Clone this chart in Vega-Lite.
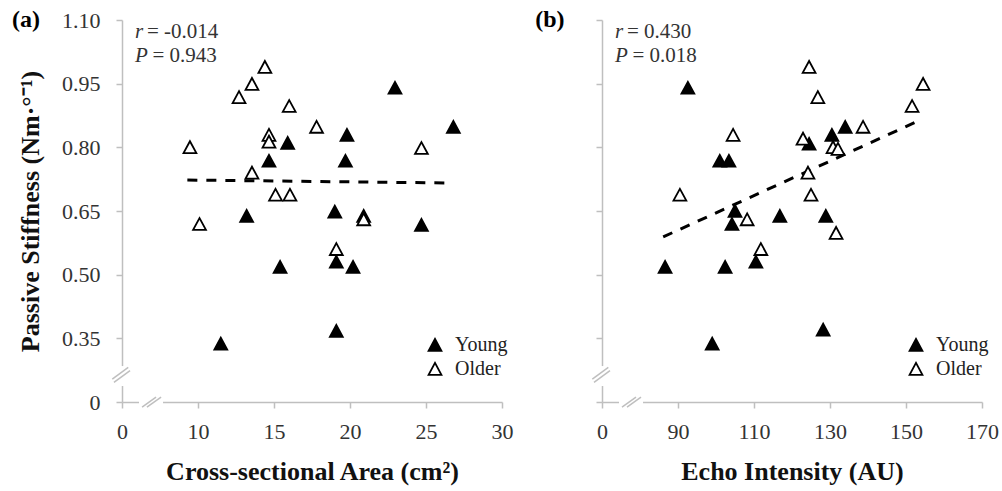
{
  "$schema": "https://vega.github.io/schema/vega-lite/v6.json",
  "background": "white",
  "padding": {"left": 11, "top": 8, "right": 5, "bottom": 5},
  "spacing": 22,
  "config": {
    "view": {"stroke": null},
    "font": "Liberation Serif",
    "axis": {
      "grid": false,
      "domainColor": "#bfbfbf",
      "domainWidth": 1.5,
      "tickColor": "#bfbfbf",
      "tickWidth": 1.5,
      "tickSize": 6,
      "labelFont": "Liberation Serif",
      "labelFontSize": 22,
      "labelColor": "#333333",
      "labelFlush": false,
      "labelOverlap": false,
      "titleFont": "Liberation Serif",
      "titleFontSize": 26,
      "titleFontWeight": "bold",
      "titleColor": "#111111"
    },
    "axisX": {"labelPadding": 13, "titlePadding": 16},
    "axisY": {"labelPadding": 16, "titlePadding": 18}
  },
  "resolve": {"scale": {"fill": "independent"}, "legend": {"fill": "independent"}},
  "datasets": {
    "a": [
      {"group": "Young", "csa": 22.96, "stiffness": 0.94},
      {"group": "Young", "csa": 26.8, "stiffness": 0.848},
      {"group": "Young", "csa": 15.9, "stiffness": 0.81},
      {"group": "Young", "csa": 19.8, "stiffness": 0.829},
      {"group": "Young", "csa": 14.67, "stiffness": 0.768},
      {"group": "Young", "csa": 19.7, "stiffness": 0.768},
      {"group": "Young", "csa": 13.2, "stiffness": 0.638},
      {"group": "Young", "csa": 19.0, "stiffness": 0.648},
      {"group": "Young", "csa": 20.9, "stiffness": 0.638},
      {"group": "Young", "csa": 24.7, "stiffness": 0.617},
      {"group": "Young", "csa": 19.1, "stiffness": 0.53},
      {"group": "Young", "csa": 15.4, "stiffness": 0.518},
      {"group": "Young", "csa": 20.2, "stiffness": 0.518},
      {"group": "Young", "csa": 19.1, "stiffness": 0.367},
      {"group": "Young", "csa": 11.5, "stiffness": 0.337},
      {"group": "Older", "csa": 9.47, "stiffness": 0.8},
      {"group": "Older", "csa": 10.1, "stiffness": 0.619},
      {"group": "Older", "csa": 12.7, "stiffness": 0.918},
      {"group": "Older", "csa": 13.55, "stiffness": 0.949},
      {"group": "Older", "csa": 14.4, "stiffness": 0.989},
      {"group": "Older", "csa": 16.0, "stiffness": 0.897},
      {"group": "Older", "csa": 17.8, "stiffness": 0.848},
      {"group": "Older", "csa": 14.67, "stiffness": 0.829},
      {"group": "Older", "csa": 14.67, "stiffness": 0.813},
      {"group": "Older", "csa": 24.7, "stiffness": 0.798},
      {"group": "Older", "csa": 13.55, "stiffness": 0.74},
      {"group": "Older", "csa": 15.1, "stiffness": 0.688},
      {"group": "Older", "csa": 16.05, "stiffness": 0.688},
      {"group": "Older", "csa": 20.9, "stiffness": 0.63},
      {"group": "Older", "csa": 19.1, "stiffness": 0.56}
    ],
    "b": [
      {"group": "Young", "echo": 92.6, "stiffness": 0.94},
      {"group": "Young", "echo": 101.0, "stiffness": 0.768},
      {"group": "Young", "echo": 103.4, "stiffness": 0.768},
      {"group": "Young", "echo": 105.0, "stiffness": 0.65},
      {"group": "Young", "echo": 104.2, "stiffness": 0.619},
      {"group": "Young", "echo": 134.0, "stiffness": 0.848},
      {"group": "Young", "echo": 130.5, "stiffness": 0.829},
      {"group": "Young", "echo": 124.5, "stiffness": 0.808},
      {"group": "Young", "echo": 116.8, "stiffness": 0.638},
      {"group": "Young", "echo": 128.9, "stiffness": 0.638},
      {"group": "Young", "echo": 110.5, "stiffness": 0.53},
      {"group": "Young", "echo": 128.2, "stiffness": 0.37},
      {"group": "Young", "echo": 86.6, "stiffness": 0.518},
      {"group": "Young", "echo": 102.4, "stiffness": 0.518},
      {"group": "Young", "echo": 99.0, "stiffness": 0.337},
      {"group": "Older", "echo": 104.5, "stiffness": 0.829},
      {"group": "Older", "echo": 90.5, "stiffness": 0.688},
      {"group": "Older", "echo": 124.5, "stiffness": 0.989},
      {"group": "Older", "echo": 126.8, "stiffness": 0.918},
      {"group": "Older", "echo": 154.5, "stiffness": 0.949},
      {"group": "Older", "echo": 151.6, "stiffness": 0.897},
      {"group": "Older", "echo": 138.7, "stiffness": 0.848},
      {"group": "Older", "echo": 122.9, "stiffness": 0.82},
      {"group": "Older", "echo": 130.8, "stiffness": 0.8},
      {"group": "Older", "echo": 132.1, "stiffness": 0.796},
      {"group": "Older", "echo": 124.2, "stiffness": 0.74},
      {"group": "Older", "echo": 125.0, "stiffness": 0.688},
      {"group": "Older", "echo": 108.2, "stiffness": 0.63},
      {"group": "Older", "echo": 131.6, "stiffness": 0.598},
      {"group": "Older", "echo": 111.8, "stiffness": 0.56}
    ],
    "lineA": [
      {"csa": 9.3, "stiffness": 0.723},
      {"csa": 26.6, "stiffness": 0.716}
    ],
    "lineB": [
      {"echo": 86.1, "stiffness": 0.589},
      {"echo": 153.7, "stiffness": 0.864}
    ],
    "one": [{}]
  },
  "hconcat": [
    {
      "width": 380,
      "height": 382,
      "layer": [
        {
          "data": {"name": "one"},
          "mark": {"type": "rule", "color": "white", "strokeWidth": 5},
          "encoding": {
            "x": {"datum": 5, "type": "quantitative", "scale": {"domain": [5, 30], "nice": false, "zero": false}},
            "y": {"datum": 0.2376, "type": "quantitative", "scale": {"domain": [0.2, 1.1], "nice": false, "zero": false}},
            "y2": {"datum": 0.2847}
          }
        },
        {
          "data": {"name": "one"},
          "mark": {"type": "rule", "color": "white", "strokeWidth": 5},
          "encoding": {
            "x": {"datum": 6.12, "type": "quantitative", "scale": {"domain": [5, 30], "nice": false, "zero": false}},
            "x2": {"datum": 7.7},
            "y": {"datum": 0.2, "type": "quantitative", "scale": {"domain": [0.2, 1.1], "nice": false, "zero": false}}
          }
        },
        {
          "data": {"name": "one"},
          "mark": {"type": "rule", "color": "#bfbfbf", "strokeWidth": 1.5},
          "encoding": {
            "x": {"datum": 4.36, "type": "quantitative", "scale": {"domain": [5, 30], "nice": false, "zero": false}},
            "x2": {"datum": 5.41},
            "y": {"datum": 0.2541, "type": "quantitative", "scale": {"domain": [0.2, 1.1], "nice": false, "zero": false}},
            "y2": {"datum": 0.2817}
          }
        },
        {
          "data": {"name": "one"},
          "mark": {"type": "rule", "color": "#bfbfbf", "strokeWidth": 1.5},
          "encoding": {
            "x": {"datum": 4.47, "type": "quantitative", "scale": {"domain": [5, 30], "nice": false, "zero": false}},
            "x2": {"datum": 5.53},
            "y": {"datum": 0.2464, "type": "quantitative", "scale": {"domain": [0.2, 1.1], "nice": false, "zero": false}},
            "y2": {"datum": 0.2737}
          }
        },
        {
          "data": {"name": "one"},
          "mark": {"type": "rule", "color": "#bfbfbf", "strokeWidth": 1.5},
          "encoding": {
            "x": {"datum": 6.32, "type": "quantitative", "scale": {"domain": [5, 30], "nice": false, "zero": false}},
            "x2": {"datum": 7.24},
            "y": {"datum": 0.188, "type": "quantitative", "scale": {"domain": [0.2, 1.1], "nice": false, "zero": false}},
            "y2": {"datum": 0.2117}
          }
        },
        {
          "data": {"name": "one"},
          "mark": {"type": "rule", "color": "#bfbfbf", "strokeWidth": 1.5},
          "encoding": {
            "x": {"datum": 6.64, "type": "quantitative", "scale": {"domain": [5, 30], "nice": false, "zero": false}},
            "x2": {"datum": 7.57},
            "y": {"datum": 0.188, "type": "quantitative", "scale": {"domain": [0.2, 1.1], "nice": false, "zero": false}},
            "y2": {"datum": 0.2117}
          }
        },
        {
          "data": {"name": "lineA"},
          "mark": {"type": "line", "color": "black", "strokeWidth": 3, "strokeDash": [10, 9]},
          "encoding": {
            "x": {"field": "csa", "type": "quantitative", "scale": {"domain": [5, 30], "nice": false, "zero": false}},
            "y": {"field": "stiffness", "type": "quantitative", "scale": {"domain": [0.2, 1.1], "nice": false, "zero": false}}
          }
        },
        {
          "data": {"name": "a"},
          "mark": {"type": "point", "shape": "M-1,0.9L1,0.9L0,-0.95Z", "size": 165, "filled": true, "stroke": "black", "strokeWidth": 1.8, "opacity": 1},
          "encoding": {
            "x": {
              "field": "csa", "type": "quantitative",
              "scale": {"domain": [5, 30], "nice": false, "zero": false},
              "axis": {"title": "Cross-sectional Area (cm²)", "values": [5, 10, 15, 20, 25, 30], "labelExpr": "datum.value == 5 ? '0' : datum.label"}
            },
            "y": {
              "field": "stiffness", "type": "quantitative",
              "scale": {"domain": [0.2, 1.1], "nice": false, "zero": false},
              "axis": {"title": "Passive Stiffness (Nm·°⁻¹)", "values": [0.2, 0.35, 0.5, 0.65, 0.8, 0.95, 1.1], "labelExpr": "datum.value < 0.25 ? '0' : format(datum.value, '.2f')"}
            },
            "fill": {
              "field": "group", "type": "nominal",
              "scale": {"domain": ["Young", "Older"], "range": ["black", "white"]},
              "legend": {
                "title": null, "orient": "none", "legendX": 303, "legendY": 315, "padding": 0,
                "labelFont": "Liberation Serif", "labelFontSize": 20, "labelColor": "#222222", "labelOffset": 10,
                "symbolType": "M-1,0.9L1,0.9L0,-0.95Z", "symbolSize": 165, "symbolStrokeColor": "black", "symbolStrokeWidth": 1.8,
                "rowPadding": 4
              }
            }
          }
        },
        {
          "data": {"name": "one"},
          "mark": {"type": "text", "text": "(a)", "font": "Liberation Serif", "fontSize": 24, "fontWeight": "bold", "align": "center", "baseline": "middle", "color": "black"},
          "encoding": {
            "x": {"datum": -1.32, "type": "quantitative", "scale": {"domain": [5, 30], "nice": false, "zero": false}},
            "y": {"datum": 1.1, "type": "quantitative", "scale": {"domain": [0.2, 1.1], "nice": false, "zero": false}}
          }
        },
        {
          "data": {"name": "one"},
          "mark": {"type": "text", "text": "r", "font": "Liberation Serif", "fontSize": 21, "fontStyle": "italic", "align": "left", "baseline": "middle", "color": "#333333"},
          "encoding": {
            "x": {"datum": 5.855, "type": "quantitative", "scale": {"domain": [5, 30], "nice": false, "zero": false}},
            "y": {"datum": 1.0717, "type": "quantitative", "scale": {"domain": [0.2, 1.1], "nice": false, "zero": false}}
          }
        },
        {
          "data": {"name": "one"},
          "mark": {"type": "text", "text": "= -0.014", "font": "Liberation Serif", "fontSize": 21, "align": "left", "baseline": "middle", "dx": 12, "color": "#333333"},
          "encoding": {
            "x": {"datum": 5.855, "type": "quantitative", "scale": {"domain": [5, 30], "nice": false, "zero": false}},
            "y": {"datum": 1.0717, "type": "quantitative", "scale": {"domain": [0.2, 1.1], "nice": false, "zero": false}}
          }
        },
        {
          "data": {"name": "one"},
          "mark": {"type": "text", "text": "P", "font": "Liberation Serif", "fontSize": 21, "fontStyle": "italic", "align": "left", "baseline": "middle", "color": "#333333"},
          "encoding": {
            "x": {"datum": 5.855, "type": "quantitative", "scale": {"domain": [5, 30], "nice": false, "zero": false}},
            "y": {"datum": 1.015, "type": "quantitative", "scale": {"domain": [0.2, 1.1], "nice": false, "zero": false}}
          }
        },
        {
          "data": {"name": "one"},
          "mark": {"type": "text", "text": "= 0.943", "font": "Liberation Serif", "fontSize": 21, "align": "left", "baseline": "middle", "dx": 17.5, "color": "#333333"},
          "encoding": {
            "x": {"datum": 5.855, "type": "quantitative", "scale": {"domain": [5, 30], "nice": false, "zero": false}},
            "y": {"datum": 1.015, "type": "quantitative", "scale": {"domain": [0.2, 1.1], "nice": false, "zero": false}}
          }
        }
      ]
    },
    {
      "width": 380,
      "height": 382,
      "layer": [
        {
          "data": {"name": "one"},
          "mark": {"type": "rule", "color": "white", "strokeWidth": 5},
          "encoding": {
            "x": {"datum": 70, "type": "quantitative", "scale": {"domain": [70, 170], "nice": false, "zero": false}},
            "y": {"datum": 0.2376, "type": "quantitative", "scale": {"domain": [0.2, 1.1], "nice": false, "zero": false}},
            "y2": {"datum": 0.2847}
          }
        },
        {
          "data": {"name": "one"},
          "mark": {"type": "rule", "color": "white", "strokeWidth": 5},
          "encoding": {
            "x": {"datum": 74.47, "type": "quantitative", "scale": {"domain": [70, 170], "nice": false, "zero": false}},
            "x2": {"datum": 80.8},
            "y": {"datum": 0.2, "type": "quantitative", "scale": {"domain": [0.2, 1.1], "nice": false, "zero": false}}
          }
        },
        {
          "data": {"name": "one"},
          "mark": {"type": "rule", "color": "#bfbfbf", "strokeWidth": 1.5},
          "encoding": {
            "x": {"datum": 67.45, "type": "quantitative", "scale": {"domain": [70, 170], "nice": false, "zero": false}},
            "x2": {"datum": 71.66},
            "y": {"datum": 0.2541, "type": "quantitative", "scale": {"domain": [0.2, 1.1], "nice": false, "zero": false}},
            "y2": {"datum": 0.2817}
          }
        },
        {
          "data": {"name": "one"},
          "mark": {"type": "rule", "color": "#bfbfbf", "strokeWidth": 1.5},
          "encoding": {
            "x": {"datum": 67.9, "type": "quantitative", "scale": {"domain": [70, 170], "nice": false, "zero": false}},
            "x2": {"datum": 72.1},
            "y": {"datum": 0.2464, "type": "quantitative", "scale": {"domain": [0.2, 1.1], "nice": false, "zero": false}},
            "y2": {"datum": 0.2737}
          }
        },
        {
          "data": {"name": "one"},
          "mark": {"type": "rule", "color": "#bfbfbf", "strokeWidth": 1.5},
          "encoding": {
            "x": {"datum": 75.26, "type": "quantitative", "scale": {"domain": [70, 170], "nice": false, "zero": false}},
            "x2": {"datum": 78.95},
            "y": {"datum": 0.188, "type": "quantitative", "scale": {"domain": [0.2, 1.1], "nice": false, "zero": false}},
            "y2": {"datum": 0.2117}
          }
        },
        {
          "data": {"name": "one"},
          "mark": {"type": "rule", "color": "#bfbfbf", "strokeWidth": 1.5},
          "encoding": {
            "x": {"datum": 76.58, "type": "quantitative", "scale": {"domain": [70, 170], "nice": false, "zero": false}},
            "x2": {"datum": 80.26},
            "y": {"datum": 0.188, "type": "quantitative", "scale": {"domain": [0.2, 1.1], "nice": false, "zero": false}},
            "y2": {"datum": 0.2117}
          }
        },
        {
          "data": {"name": "lineB"},
          "mark": {"type": "line", "color": "black", "strokeWidth": 3, "strokeDash": [10, 9]},
          "encoding": {
            "x": {"field": "echo", "type": "quantitative", "scale": {"domain": [70, 170], "nice": false, "zero": false}},
            "y": {"field": "stiffness", "type": "quantitative", "scale": {"domain": [0.2, 1.1], "nice": false, "zero": false}}
          }
        },
        {
          "data": {"name": "b"},
          "mark": {"type": "point", "shape": "M-1,0.9L1,0.9L0,-0.95Z", "size": 165, "filled": true, "stroke": "black", "strokeWidth": 1.8, "opacity": 1},
          "encoding": {
            "x": {
              "field": "echo", "type": "quantitative",
              "scale": {"domain": [70, 170], "nice": false, "zero": false},
              "axis": {"title": "Echo Intensity (AU)", "values": [70, 90, 110, 130, 150, 170], "labelExpr": "datum.value == 70 ? '0' : datum.label"}
            },
            "y": {
              "field": "stiffness", "type": "quantitative",
              "scale": {"domain": [0.2, 1.1], "nice": false, "zero": false},
              "axis": {"title": null, "labels": false, "values": [0.2, 0.35, 0.5, 0.65, 0.8, 0.95, 1.1]}
            },
            "fill": {
              "field": "group", "type": "nominal",
              "scale": {"domain": ["Young", "Older"], "range": ["black", "white"]},
              "legend": {
                "title": null, "orient": "none", "legendX": 304, "legendY": 315, "padding": 0,
                "labelFont": "Liberation Serif", "labelFontSize": 20, "labelColor": "#222222", "labelOffset": 10,
                "symbolType": "M-1,0.9L1,0.9L0,-0.95Z", "symbolSize": 165, "symbolStrokeColor": "black", "symbolStrokeWidth": 1.8,
                "rowPadding": 4
              }
            }
          }
        },
        {
          "data": {"name": "one"},
          "mark": {"type": "text", "text": "(b)", "font": "Liberation Serif", "fontSize": 24, "fontWeight": "bold", "align": "center", "baseline": "middle", "color": "black"},
          "encoding": {
            "x": {"datum": 56.3, "type": "quantitative", "scale": {"domain": [70, 170], "nice": false, "zero": false}},
            "y": {"datum": 1.1, "type": "quantitative", "scale": {"domain": [0.2, 1.1], "nice": false, "zero": false}}
          }
        },
        {
          "data": {"name": "one"},
          "mark": {"type": "text", "text": "r", "font": "Liberation Serif", "fontSize": 21, "fontStyle": "italic", "align": "left", "baseline": "middle", "color": "#333333"},
          "encoding": {
            "x": {"datum": 73.42, "type": "quantitative", "scale": {"domain": [70, 170], "nice": false, "zero": false}},
            "y": {"datum": 1.0717, "type": "quantitative", "scale": {"domain": [0.2, 1.1], "nice": false, "zero": false}}
          }
        },
        {
          "data": {"name": "one"},
          "mark": {"type": "text", "text": "= 0.430", "font": "Liberation Serif", "fontSize": 21, "align": "left", "baseline": "middle", "dx": 12, "color": "#333333"},
          "encoding": {
            "x": {"datum": 73.42, "type": "quantitative", "scale": {"domain": [70, 170], "nice": false, "zero": false}},
            "y": {"datum": 1.0717, "type": "quantitative", "scale": {"domain": [0.2, 1.1], "nice": false, "zero": false}}
          }
        },
        {
          "data": {"name": "one"},
          "mark": {"type": "text", "text": "P", "font": "Liberation Serif", "fontSize": 21, "fontStyle": "italic", "align": "left", "baseline": "middle", "color": "#333333"},
          "encoding": {
            "x": {"datum": 73.42, "type": "quantitative", "scale": {"domain": [70, 170], "nice": false, "zero": false}},
            "y": {"datum": 1.015, "type": "quantitative", "scale": {"domain": [0.2, 1.1], "nice": false, "zero": false}}
          }
        },
        {
          "data": {"name": "one"},
          "mark": {"type": "text", "text": "= 0.018", "font": "Liberation Serif", "fontSize": 21, "align": "left", "baseline": "middle", "dx": 17.5, "color": "#333333"},
          "encoding": {
            "x": {"datum": 73.42, "type": "quantitative", "scale": {"domain": [70, 170], "nice": false, "zero": false}},
            "y": {"datum": 1.015, "type": "quantitative", "scale": {"domain": [0.2, 1.1], "nice": false, "zero": false}}
          }
        }
      ]
    }
  ]
}
